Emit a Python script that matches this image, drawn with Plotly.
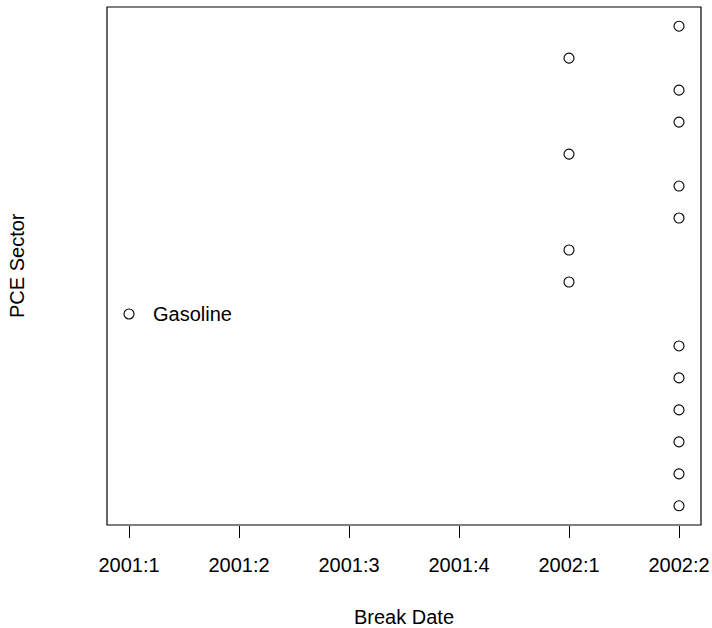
import plotly.graph_objects as go

# Quarter tick labels
quarters = ["2001:1", "2001:2", "2001:3", "2001:4", "2002:1", "2002:2"]
quarter_pos = [1, 2, 3, 4, 5, 6]

# Sector index (1 = bottom) and break date (quarter position)
sector_idx = list(range(1, 17))
break_q = [6, 6, 6, 6, 6, 6, 1, 5, 5, 6, 6, 5, 6, 6, 5, 6]

label_idx = 7
label_text = "Gasoline"

font = "Liberation Sans, Arial, Helvetica, sans-serif"
FS = 20

fig = go.Figure()
fig.add_trace(go.Scatter(
    x=break_q, y=sector_idx, mode="markers",
    marker=dict(symbol="circle-open", size=10, color="black", line=dict(width=1.1, color="black")),
    hoverinfo="skip", showlegend=False,
))

annotations = [
    dict(x=break_q[label_idx - 1], y=label_idx, text=label_text,
         xref="x", yref="y", xanchor="left", yanchor="middle",
         xshift=22, showarrow=False,
         font=dict(family=font, size=FS, color="black")),
    dict(text="Break Date", xref="paper", yref="paper", x=0.5, y=-0.178,
         xanchor="center", yanchor="middle", showarrow=False,
         font=dict(family=font, size=FS, color="black")),
    dict(text="PCE Sector", xref="paper", yref="paper", x=-0.1515, y=0.5,
         xanchor="center", yanchor="middle", textangle=-90, showarrow=False,
         font=dict(family=font, size=FS, color="black")),
]

fig.update_layout(
    width=712, height=628,
    margin=dict(l=107, r=11, t=7, b=103, autoexpand=False),
    plot_bgcolor="white", paper_bgcolor="white",
    font=dict(family=font, size=FS, color="black"),
    xaxis=dict(range=[0.8, 6.2], tickvals=quarter_pos, ticktext=quarters,
               ticks="outside", ticklen=12, tickwidth=1, tickcolor="black",
               ticklabelstandoff=10, automargin=False,
               showgrid=False, zeroline=False, showline=False,
               tickfont=dict(family=font, size=FS, color="black")),
    yaxis=dict(range=[0.4, 16.6], showticklabels=False, ticks="", automargin=False,
               showgrid=False, zeroline=False, showline=False),
    shapes=[dict(type="rect", xref="paper", yref="paper", x0=0, x1=1, y0=0, y1=1,
                 line=dict(color="black", width=1.2))],
    annotations=annotations,
)

fig.write_html("out.html")
